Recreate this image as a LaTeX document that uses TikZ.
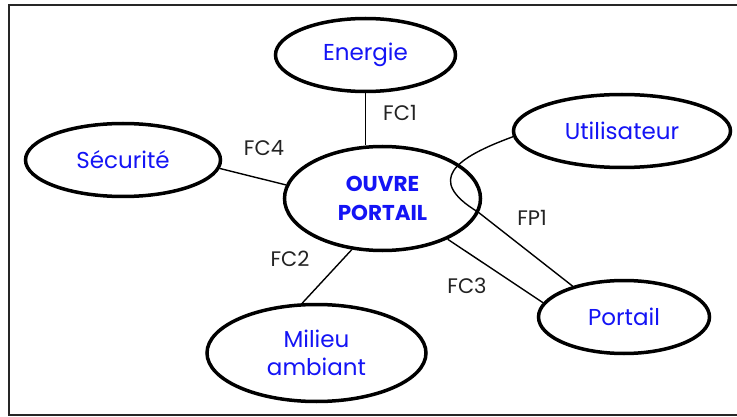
\documentclass[tikz,border=0pt]{standalone}
\usepackage{fontspec}
\setmainfont{Poppins}
\usetikzlibrary{shapes.geometric}
\definecolor{txtblue}{RGB}{20,20,245}
\definecolor{lblgray}{RGB}{35,35,35}
\tikzset{
  bub/.style={ellipse, draw=black, line width=3.5pt, inner sep=0pt, align=center,
    text=txtblue, font=\fontsize{23}{28.5}\selectfont},
  conn/.style={line width=1.4pt, draw=black},
  lbl/.style={text=lblgray, font=\fontsize{21}{24}\selectfont, inner sep=0pt},
  frame/.style={line width=2pt, draw=black!85}
}
\begin{document}
\begin{tikzpicture}[x=1pt,y=-1pt]
\useasboundingbox (0,0) rectangle (737,417);
\fill[white] (0,0) rectangle (737,417);
% frame (right side lies outside the picture)
\coordinate (ftr) at (740,5);
\coordinate (ftl) at (9,5);
\coordinate (fbl) at (9,415);
\coordinate (fbr) at (740,415);
\draw[frame] (ftr) -- (ftl) -- (fbl) -- (fbr);

\node[bub, minimum width=180pt, minimum height=73pt] (energie) at (365.5,55) {Energie};
\node[bub, minimum width=195pt, minimum height=73pt] (securite) at (123,160) {Sécurité};
\node[bub, minimum width=196pt, minimum height=104pt, font=\fontsize{21.5}{29.5}\selectfont\bfseries] (ouvre) at (382.5,198.5) {OUVRE\\PORTAIL};
\node[bub, minimum width=217pt, minimum height=73pt] (utilisateur) at (622,131) {Utilisateur};
\node[bub, minimum width=171pt, minimum height=73pt] (portail) at (624,317) {Portail};
\node[bub, minimum width=219pt, minimum height=97pt] (milieu) at (316.5,353) {Milieu\\ambiant};

\draw[conn] (energie.south) -- (energie.south |- ouvre.north);
\draw[conn] (securite.-5) -- (ouvre.172);
\draw[conn] (ouvre.-121) -- (milieu.106);
\draw[conn] (ouvre.-32) -- (portail.170);
\coordinate (bend) at (478,212);
\draw[conn] (utilisateur.-177) .. controls (455,158) and (425,180) .. (bend) -- (portail.149);

\node[lbl] (fc1) at (400,113) {FC1};
\node[lbl] (fc4) at (264,148) {FC4};
\node[lbl] (fc2) at (290,259) {FC2};
\node[lbl] (fc3) at (467,286) {FC3};
\node[lbl] (fp1) at (532,218) {FP1};
\end{tikzpicture}
\end{document}
